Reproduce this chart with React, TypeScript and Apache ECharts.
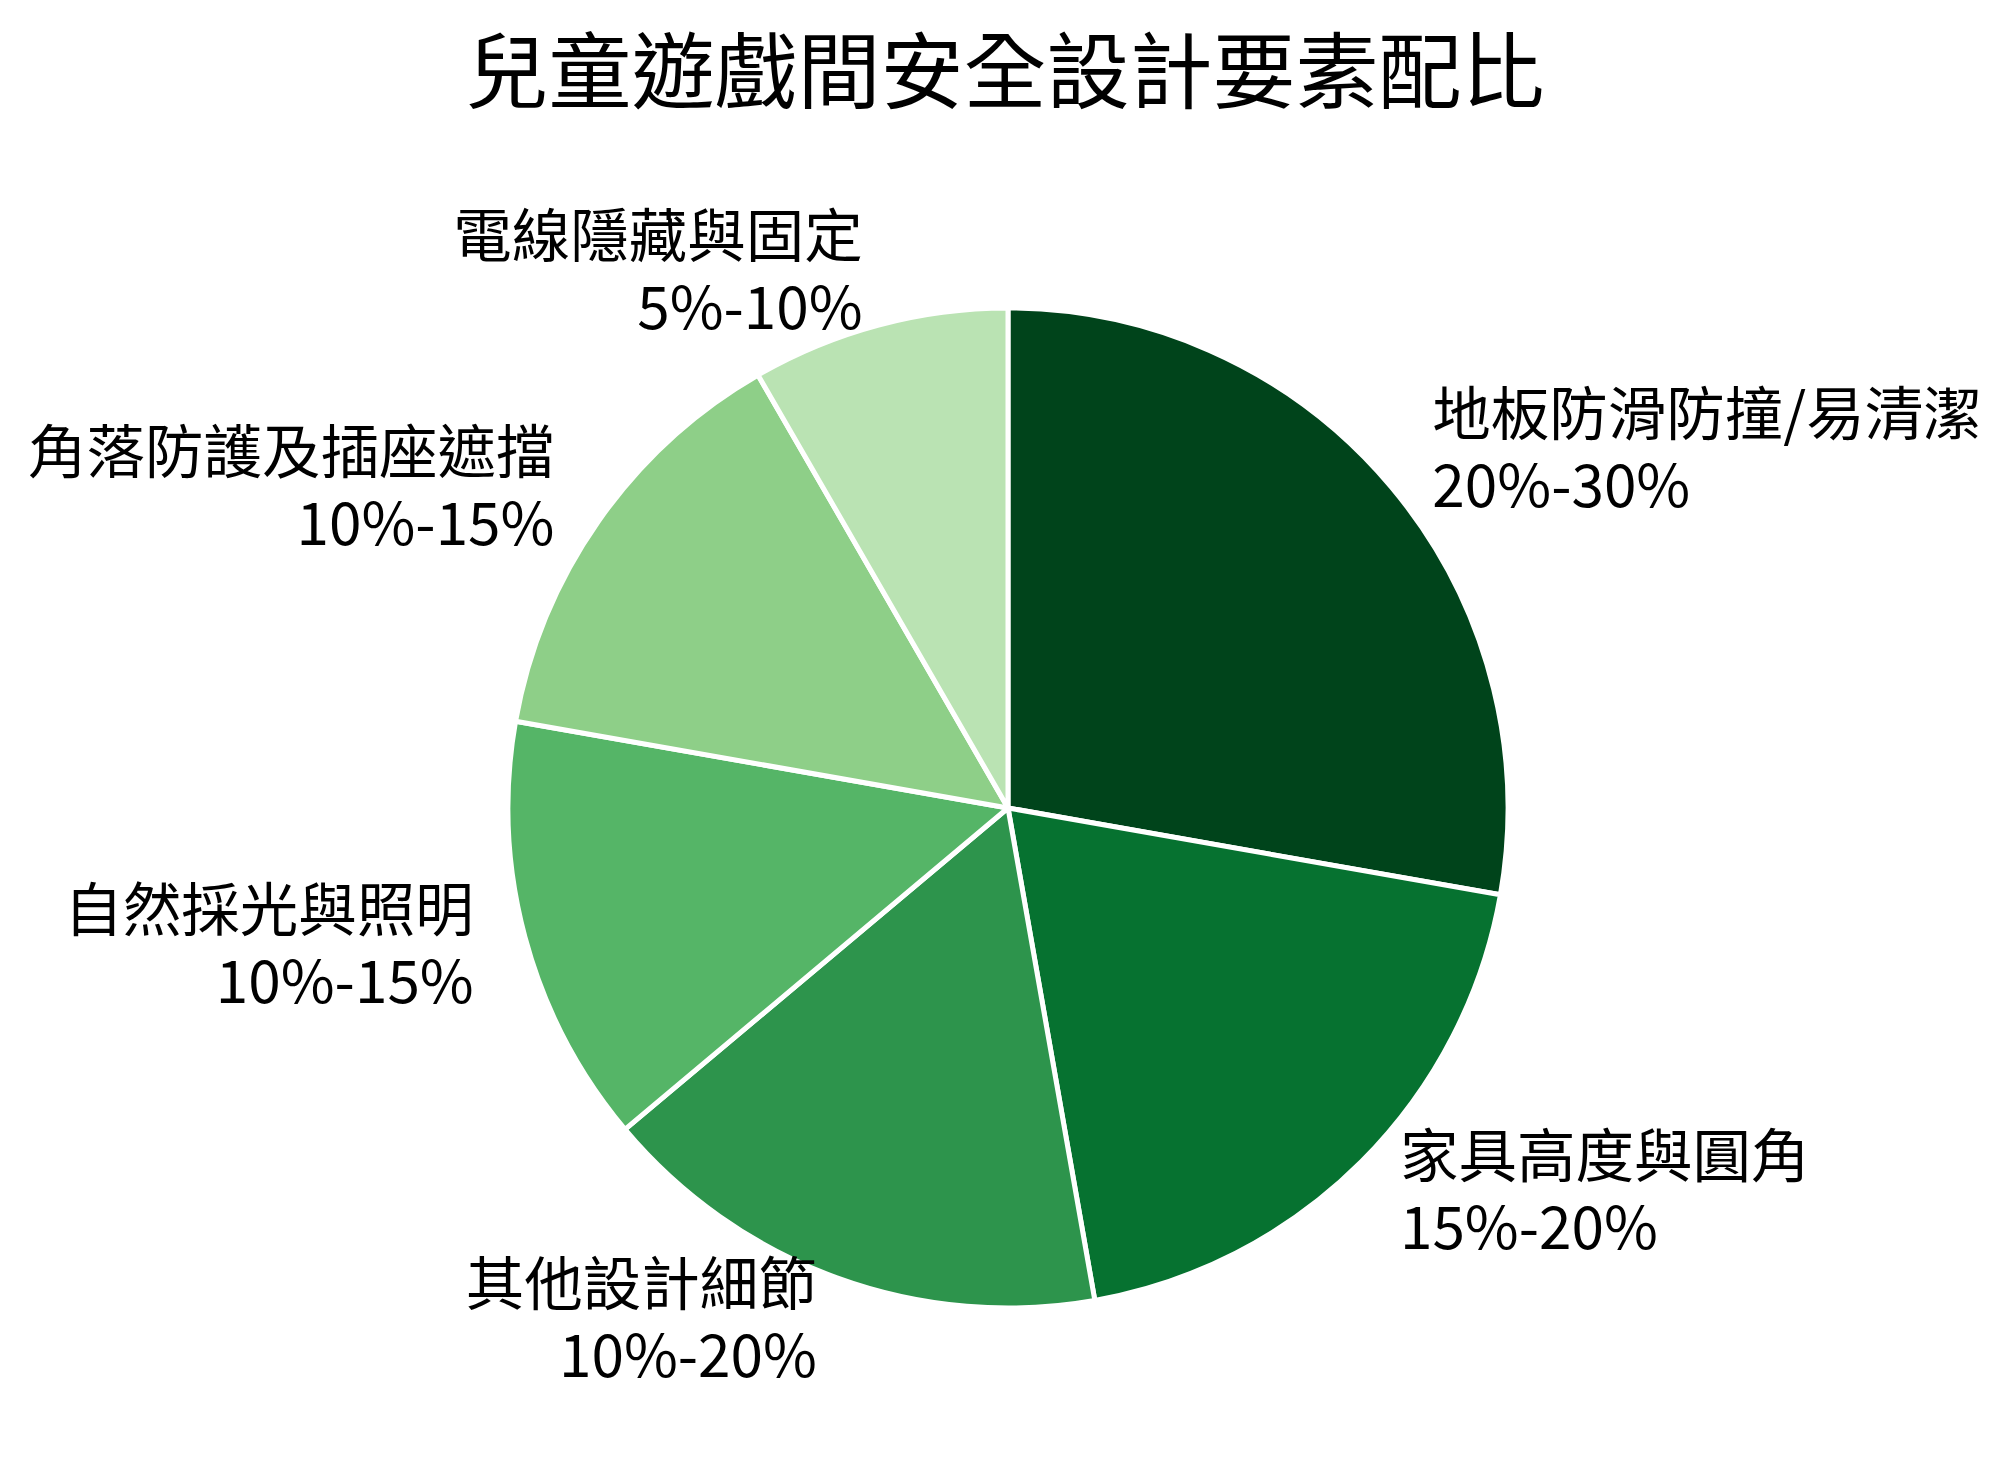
import React, { useEffect, useRef } from "react";
import * as echarts from "echarts";

const title = "兒童遊戲間安全設計要素配比";
const categories = [
  "地板防滑防撞/易清潔",
  "家具高度與圓角",
  "其他設計細節",
  "自然採光與照明",
  "角落防護及插座遮擋",
  "電線隱藏與固定",
];
const ranges = ["20%-30%", "15%-20%", "10%-20%", "10%-15%", "10%-15%", "5%-10%"];
const values = [25, 17.5, 15, 12.5, 12.5, 7.5];
const colors = ["#00441b", "#067230", "#2d944c", "#55b567", "#8ecf88", "#bae3b3"];

const FONT = '"Noto Sans CJK TC", "Noto Sans CJK SC", sans-serif';

export default function App() {
  const ref = useRef<HTMLDivElement>(null);
  useEffect(() => {
    document.body.style.margin = "0";
    const chart = echarts.init(ref.current!, null, { renderer: "svg" });
    chart.setOption({
      animation: false,
      backgroundColor: "#ffffff",
      title: {
        text: title,
        left: "center",
        top: 19,
        textStyle: { fontFamily: FONT, fontSize: 83, fontWeight: "normal", color: "#000000" },
      },
      series: [
        {
          type: "pie",
          center: [1008, 808],
          radius: 500,
          startAngle: 90,
          clockwise: true,
          avoidLabelOverlap: false,
          itemStyle: { borderColor: "#ffffff", borderWidth: 5 },
          label: {
            show: true,
            position: "outside",
            distanceToLabelLine: 3,
            fontFamily: FONT,
            fontSize: 58.5,
            lineHeight: 72,
            color: "#000000",
            formatter: (p: any) => `{t|${p.name}}\n{t|${ranges[p.dataIndex]}}\n{s| }`,
            rich: {
              t: { fontFamily: FONT, fontSize: 58.5, lineHeight: 72, color: "#000000" },
              s: { fontSize: 1, lineHeight: 18 },
            },
          },
          labelLine: { show: false, length: 50, length2: 0 },
          emphasis: { disabled: true },
          data: categories.map((c, i) => ({
            name: c,
            value: values[i],
            itemStyle: { color: colors[i] },
          })),
        },
      ],
    });
    return () => chart.dispose();
  }, []);
  return <div ref={ref} style={{ width: 2010, height: 1468 }} />;
}
